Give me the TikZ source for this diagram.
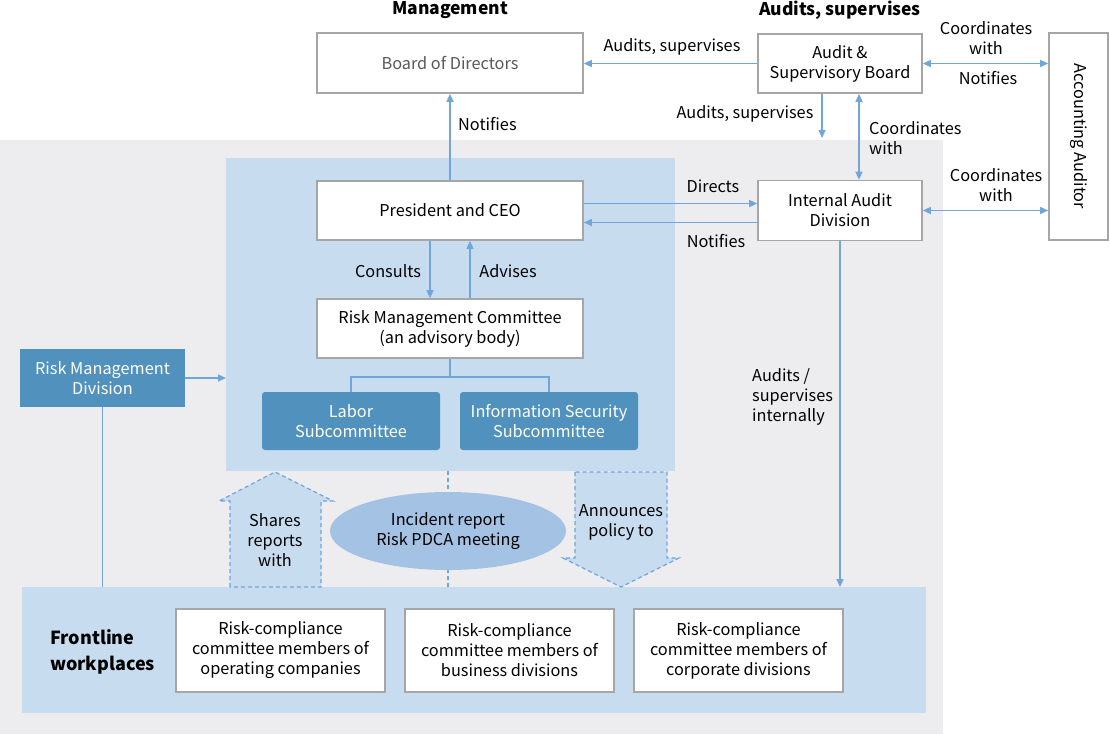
\documentclass[tikz,border=0pt]{standalone}
\usepackage{fontspec}
\setmainfont{Noto Sans CJK JP}
\usetikzlibrary{arrows.meta,shapes.geometric}
\definecolor{bggray}{HTML}{EDEDF0}
\definecolor{lblue}{HTML}{C8DCF0}
\definecolor{dblue}{HTML}{5091BD}
\definecolor{eblue}{HTML}{A3C2E4}
\definecolor{conn}{HTML}{6FA6DC}
\definecolor{bord}{HTML}{A6A6A6}
\definecolor{txtgray}{HTML}{595959}
\tikzset{
  txt/.style={font=\fontsize{16.3}{20}\selectfont, text=black, align=center, inner sep=0pt},
  wbox/.style={txt, draw=bord, line width=1.6pt, fill=white},
  dbox/.style={txt, fill=dblue, text=white, rounded corners=3pt},
  region/.style={inner sep=0pt, draw=none},
  arr/.style={draw=conn, line width=1.4pt, -{Triangle[length=8pt,width=7pt]}},
  darr/.style={draw=conn, line width=1.4pt, {Triangle[length=8pt,width=7pt]}-{Triangle[length=8pt,width=7pt]}},
  ln/.style={draw=conn, line width=1.4pt},
  dln/.style={draw=conn, line width=1.2pt, dash pattern=on 4pt off 3pt},
  lbl/.style={txt},
  ttl/.style={font=\fontsize{17.5}{20}\selectfont\bfseries, text=black, inner sep=0pt}
}
\begin{document}
\begin{tikzpicture}[x=1pt,y=-1pt]
\useasboundingbox (0,0) rectangle (1110,734);
% regions
\node[region, fill=bggray, minimum width=943pt, minimum height=594pt, anchor=north west] (bg) at (0,140) {};
\node[region, fill=lblue, minimum width=449pt, minimum height=313pt, anchor=north west] (bluebox) at (226,158) {};
\node[region, fill=lblue, minimum width=904pt, minimum height=126pt, anchor=north west] (band) at (22,587) {};

% titles
\node[ttl] (tmgmt) at (450,10) {Management};
\node[ttl] (taud) at (840,10) {Audits, supervises};

% boxes
\node[wbox, text=txtgray, minimum width=266pt, minimum height=60pt] (board) at (450,63) {Board of Directors};
\node[wbox, minimum width=164pt, minimum height=59pt] (asb) at (840,63.5) {Audit \&\\Supervisory Board};
\node[wbox, minimum width=59pt, minimum height=207pt] (aa) at (1078.5,136.5) {};
\node[txt, rotate=-90] (aatxt) at (aa.center) {Accounting Auditor};
\node[wbox, minimum width=164pt, minimum height=60pt] (iad) at (840,210.5) {Internal Audit\\Division};
\node[wbox, minimum width=266pt, minimum height=59pt] (ceo) at (450,210.5) {President and CEO};
\node[wbox, minimum width=266pt, minimum height=59pt] (rmc) at (450,328.5) {Risk Management Committee\\(an advisory body)};
\node[dbox, minimum width=178pt, minimum height=58pt] (labor) at (351,421) {Labor\\Subcommittee};
\node[dbox, minimum width=178pt, minimum height=58pt] (infosec) at (549,421) {Information Security\\Subcommittee};
\node[dbox, rounded corners=0pt, minimum width=165pt, minimum height=58pt] (rmd) at (102.5,378) {Risk Management\\Division};

\node[wbox, minimum width=209pt, minimum height=83pt] (fw1) at (280.5,650.5) {Risk-compliance\\committee members of\\operating companies};
\node[wbox, minimum width=209pt, minimum height=83pt] (fw2) at (509.5,650.5) {Risk-compliance\\committee members of\\business divisions};
\node[wbox, minimum width=209pt, minimum height=83pt] (fw3) at (738.5,650.5) {Risk-compliance\\committee members of\\corporate divisions};
\node[font=\fontsize{18}{26}\selectfont\bfseries, align=left, anchor=west, inner sep=0pt] (front) at (50,652) {Frontline\\workplaces};

% dashed center line + ellipse
\coordinate (ec) at (448,531);
\draw[dln] (bluebox.south -| ec) -- (band.north -| ec);
\node[ellipse, fill=eblue, minimum width=236pt, minimum height=78pt, inner sep=0pt, txt] (ell) at (ec) {Incident report\\Risk PDCA meeting};

% block arrows
\draw[dln, fill=lblue] (230,587) -- (230,501) -- (219,501) -- (275,472) -- (333,501) -- (321,501) -- (321,587) -- cycle;
\node[txt] (shares) at (275,540) {Shares\\reports\\with};
\draw[dln, fill=lblue] (575,472) -- (575,558) -- (563,558) -- (621,587) -- (679,558) -- (667,558) -- (667,472) -- cycle;
\node[txt] (annc) at (621,522) {Announces\\policy to};

% connectors
\draw[arr] (asb.west) -- (asb.west -| board.east);
\node[lbl] (l1) at (672,47) {Audits, supervises};
\draw[darr] (asb.east) -- (asb.east -| aa.west);
\node[lbl] (l2) at (986,38) {Coordinates\\with};
\node[lbl] (l3) at (988,78) {Notifies};
\coordinate (abd) at (822,138);
\draw[arr] (abd |- asb.south) -- (abd);
\node[lbl] (l4) at (745,114) {Audits, supervises};
\coordinate (abx) at (859,0);
\draw[darr] (abx |- asb.south) -- (abx |- iad.north);
\node[lbl, anchor=west, align=left] (l5) at (869,138) {Coordinates\\with};
\draw[arr] (ceo.north) -- (board.south);
\node[lbl, anchor=west] (l6) at (458,124) {Notifies};
\draw[arr] ([yshift=7pt]ceo.east) -- ([yshift=7pt]ceo.east -| iad.west);
\node[lbl] (l7) at (713,186) {Directs};
\draw[arr] ([yshift=-12pt]iad.west) -- ([yshift=-12pt]iad.west -| ceo.east);
\node[lbl] (l8) at (716,241) {Notifies};
\draw[darr] (iad.east) -- (iad.east -| aa.west);
\node[lbl] (l9) at (996,185) {Coordinates\\with};
\draw[arr] ([xshift=-20pt]ceo.south) -- ([xshift=-20pt]rmc.north);
\node[lbl] (l10) at (388,271) {Consults};
\draw[arr] ([xshift=20pt]rmc.north) -- ([xshift=20pt]ceo.south);
\node[lbl] (l11) at (508,271) {Advises};
\draw[ln] (rmc.south) -- ++(0,18) coordinate (tj) -| (labor.north);
\draw[ln] (tj) -| (infosec.north);
\draw[arr] (rmd.east) -- (rmd.east -| bluebox.west);
\draw[ln] (rmd.south) -- (rmd.south |- band.north);
\draw[arr] (iad.south) -- (iad.south |- band.north);
\node[lbl, anchor=west, align=left] (l12) at (752,397) {Audits /\\supervises\\internally};
\end{tikzpicture}
\end{document}
